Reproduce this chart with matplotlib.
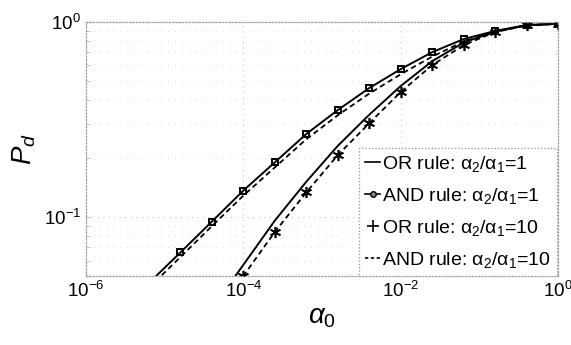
import numpy as np
import matplotlib
matplotlib.use("Agg")
import matplotlib.pyplot as plt
from matplotlib.lines import Line2D

plt.rcParams['font.family'] = ['Liberation Sans', 'DejaVu Sans']
plt.rcParams['mathtext.fontset'] = 'custom'
plt.rcParams['mathtext.rm'] = 'Liberation Sans'
plt.rcParams['mathtext.it'] = 'Liberation Sans:italic'

# false alarm probability alpha_0 (log spaced, every 0.4 decade)
alpha0 = [6.31e-6, 1.585e-5, 3.98e-5, 1.0e-4, 2.51e-4, 6.31e-4, 1.585e-3,
          3.98e-3, 1.0e-2, 2.51e-2, 6.31e-2, 0.1585, 0.398, 1.0]

# detection probability curves
pd_sq = [0.046, 0.066, 0.095, 0.137, 0.191, 0.267, 0.354, 0.459, 0.574,
         0.701, 0.818, 0.90, 0.966, 0.98]
pd_sq_dash = [0.0435, 0.0625, 0.0900, 0.129, 0.180, 0.251, 0.333, 0.430,
              0.540, 0.665, 0.795, 0.89, 0.962, 0.98]
pd_or10 = [0.008, 0.015, 0.034, 0.057, 0.096, 0.152, 0.232, 0.335, 0.47,
           0.63, 0.785, 0.895, 0.963, 0.98]
pd_and10 = [0.006, 0.012, 0.029, 0.050, 0.084, 0.134, 0.208, 0.303, 0.438,
            0.601, 0.762, 0.889, 0.962, 0.98]

labels = [r'OR rule: $\mathregular{\alpha_2/\alpha_1}$=1',
          r'AND rule: $\mathregular{\alpha_2/\alpha_1}$=1',
          r'OR rule: $\mathregular{\alpha_2/\alpha_1}$=10',
          r'AND rule: $\mathregular{\alpha_2/\alpha_1}$=10']

fig = plt.figure(figsize=(5.71, 3.45), dpi=100)
ax = fig.add_axes([0.1506, 0.2, 0.8266, 0.736])

asterisk = (6, 2, 0)
ax.plot(alpha0, pd_sq, '-', color='k', lw=1.4, marker='s', ms=5,
        mfc='none', mew=1.4)
ax.plot(alpha0, pd_sq_dash, '--', color='k', lw=1.3, dashes=(3, 2))
ax.plot(alpha0, pd_or10, '-', color='k', lw=1.4)
ax.plot(alpha0, pd_and10, '--', color='k', lw=1.3, dashes=(3, 2),
        marker=asterisk, ms=8, mew=1.2)

ax.set_xscale('log')
ax.set_yscale('log')
ax.set_xlim(1e-6, 1)
ax.set_ylim(0.05, 1)
ax.set_xticks([1e-6, 1e-4, 1e-2, 1])
ax.set_yticks([1e-1, 1])
ax.xaxis.set_minor_locator(matplotlib.ticker.NullLocator())
ax.tick_params(which='both', direction='in', colors='#b8b8b8',
               labelcolor='k', labelsize=13.5, length=3)
ax.grid(True, which='major', ls=(0, (1, 4)), color='#c8c8c8', lw=0.8)
ax.grid(True, which='minor', axis='y', ls=(0, (1, 6)), color='#dddddd', lw=0.7)
for s in ax.spines.values():
    s.set_linestyle(':')
    s.set_color('#a0a0a0')
    s.set_linewidth(0.9)

ax.set_xlabel(r'$\alpha_0$', fontsize=20, labelpad=2)
ax.set_ylabel(r'$P_d$', fontsize=20, labelpad=4)

handles = [Line2D([], [], color='k', lw=1.2),
           Line2D([], [], color='k', lw=1.2, marker='o', ms=4, mfc='#888888'),
           Line2D([], [], color='k', ls='none', marker='+', ms=9, mew=1.2),
           Line2D([], [], color='k', lw=1.2, ls='--', dashes=(2, 1.5))]
leg = ax.legend(handles, labels, loc='lower right',
                bbox_to_anchor=(0.998, 0.0), fontsize=14, handlelength=0.8,
                handletextpad=0.1, borderpad=0.3, labelspacing=0.62,
                borderaxespad=0.0, fancybox=False, framealpha=1)
leg.get_frame().set_linestyle(':')
leg.get_frame().set_edgecolor('#909090')
leg.get_frame().set_linewidth(0.9)

fig.savefig('out.png', dpi=100)
